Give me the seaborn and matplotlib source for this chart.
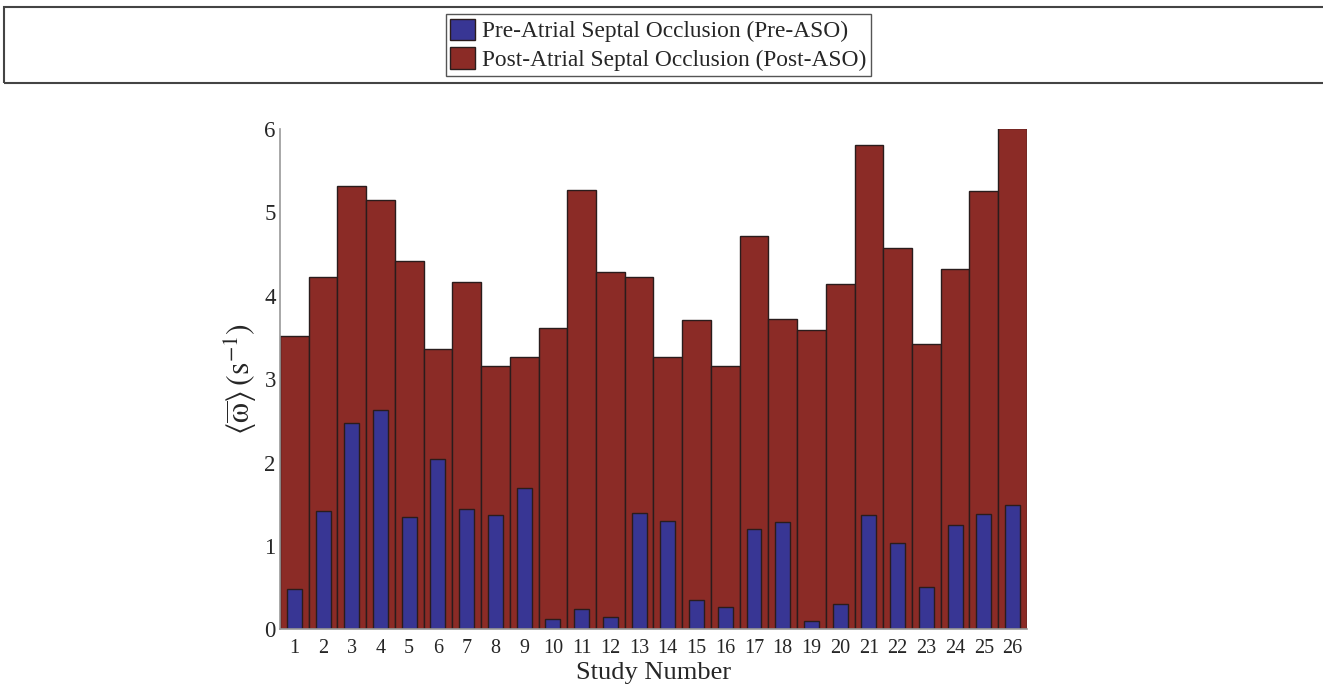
import numpy as np
import pandas as pd
import matplotlib
matplotlib.use("Agg")
import matplotlib.pyplot as plt
import seaborn as sns
from matplotlib.patches import Patch, Rectangle

# --- Dados ---
study = [str(i) for i in range(1, 27)]
pre_aso = [0.48, 1.42, 2.48, 2.63, 1.35, 2.04, 1.44, 1.37, 1.70, 0.13, 0.25, 0.15, 1.40,
           1.30, 0.35, 0.27, 1.20, 1.29, 0.10, 0.31, 1.37, 1.04, 0.51, 1.25, 1.38, 1.49]
post_aso = [3.52, 4.23, 5.32, 5.15, 4.42, 3.36, 4.17, 3.16, 3.27, 3.62, 5.27, 4.28, 4.22,
            3.27, 3.71, 3.16, 4.72, 3.72, 3.59, 4.14, 5.81, 4.57, 3.42, 4.32, 5.26, 6.01]
labels = ["Pre-Atrial Septal Occlusion (Pre-ASO)", "Post-Atrial Septal Occlusion (Post-ASO)"]

pre_color = "#383694"
post_color = "#8B2B26"
edge = "#2a1c1c"

sns.set_theme(style="white")
plt.rcParams["font.family"] = ["Liberation Serif", "DejaVu Serif"]
plt.rcParams["mathtext.fontset"] = "stix"

df = pd.DataFrame({"Study": study, "Pre": pre_aso, "Post": post_aso})

fig = plt.figure(figsize=(13.23, 6.89), dpi=100)
ax = fig.add_axes([0.2116, 0.0864, 0.5646, 0.7264])

sns.barplot(data=df, x="Study", y="Post", color=post_color, saturation=1, width=1.0,
            edgecolor=edge, linewidth=1.0, ax=ax)
sns.barplot(data=df, x="Study", y="Pre", color=pre_color, saturation=1, width=0.52,
            edgecolor=edge, linewidth=1.0, ax=ax)

ax.set_xlim(-0.5, 25.5)
ax.set_ylim(0, 6)
ax.set_yticks(range(0, 7))
ax.tick_params(axis="y", direction="in", length=7, width=1, color="#888888", labelsize=16.5, pad=3)
ax.tick_params(axis="x", direction="in", length=0, labelsize=14.5, pad=7)
for s in ["top", "right"]:
    ax.spines[s].set_visible(False)
for s in ["left", "bottom"]:
    ax.spines[s].set_color("#999999")
    ax.spines[s].set_linewidth(1.2)

ax.set_xlabel("Study Number", fontsize=19, labelpad=3)
ax.set_ylabel(r"$\langle\overline{\mathrm{\omega}}\rangle\,(\mathrm{s}^{-1})$", fontsize=23, labelpad=4)

# --- Legenda no topo ---
handles = [Patch(facecolor=pre_color, edgecolor=edge), Patch(facecolor=post_color, edgecolor=edge)]
leg = fig.legend(handles, labels, loc="center", bbox_to_anchor=(0.4975, 0.935), fontsize=16.8,
                 frameon=True, fancybox=False, framealpha=1, edgecolor="#555555",
                 handlelength=1.05, handleheight=1.05, handletextpad=0.3, borderpad=0.2,
                 labelspacing=0.2)
leg.get_frame().set_linewidth(1.0)

fig.add_artist(Rectangle((0.003, 0.880), 1.1, 0.1096, transform=fig.transFigure,
                         fill=False, edgecolor="#444444", linewidth=1.5))

fig.savefig("out.png", dpi=100)
